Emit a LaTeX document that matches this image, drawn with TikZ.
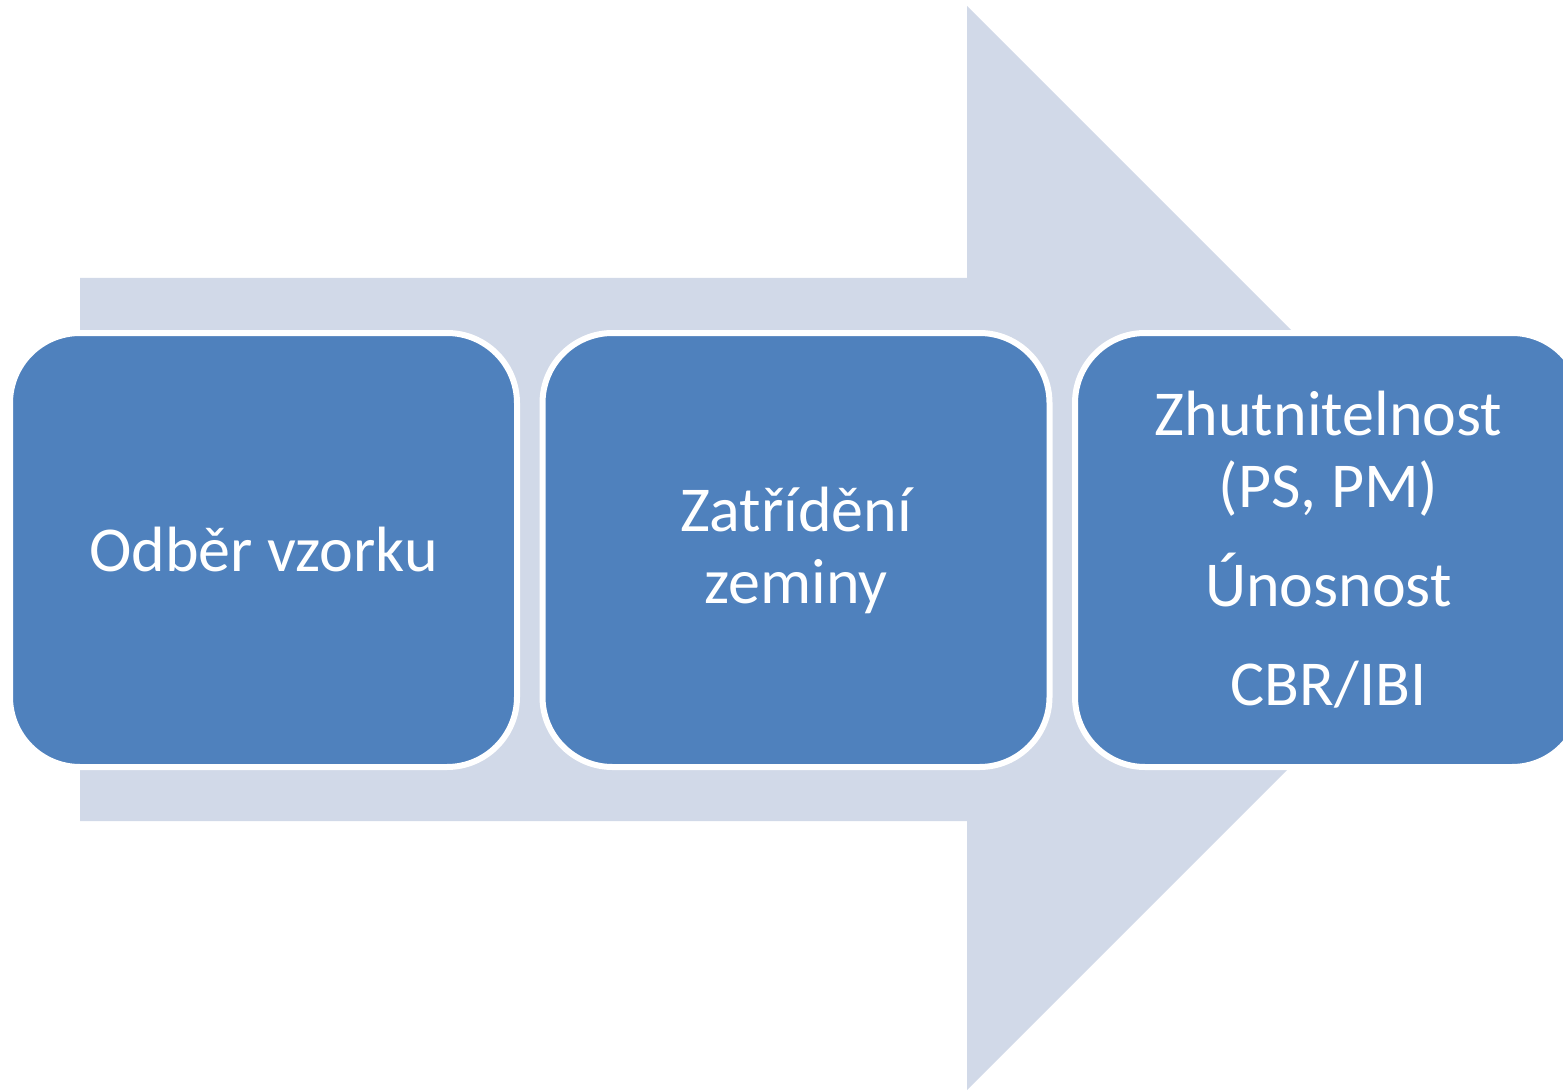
\documentclass[tikz,border=0pt]{standalone}
\usepackage{fontspec}
\setmainfont{Carlito}
\definecolor{arrowfill}{HTML}{D1D9E8}
\definecolor{boxfill}{HTML}{4F81BD}
\begin{document}
\begin{tikzpicture}[x=1pt,y=-1pt,
  stepbox/.style={draw=white, line width=6pt, fill=boxfill, rounded corners=70pt,
    minimum width=507pt, minimum height=434pt, text=white, align=center,
    font=\fontsize{64}{72}\selectfont, inner sep=0pt}]
\useasboundingbox (0,0) rectangle (1563,1091);
\clip (0,0) rectangle (1563,1091);
\fill[arrowfill] (80,278) -- (967,278) -- (967,6) -- (1509,548) -- (967,1090)
  -- (967,821) -- (80,821) -- cycle;
\node[stepbox] (b1) at (263.5,550) {Odběr vzorku};
\node[stepbox] (b2) at (796,550) {Zatřídění\\zeminy};
\node[stepbox] (b3) at (1328.5,550) {Zhutnitelnost\\(PS, PM)\\[27pt]Únosnost\\[27pt]CBR/IBI};
\end{tikzpicture}
\end{document}
